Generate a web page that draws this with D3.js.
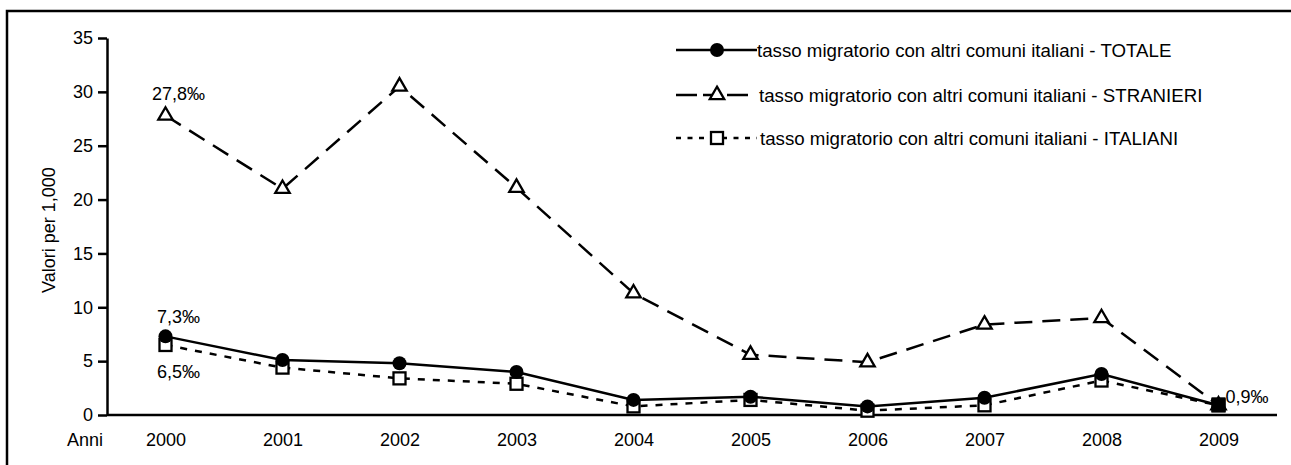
<!DOCTYPE html>
<html>
<head>
<meta charset="utf-8">
<script src="https://cdn.jsdelivr.net/npm/d3@7/dist/d3.min.js"></script>
<style>
  html, body { margin: 0; padding: 0; background: #fff; }
  svg { display: block; font-family: "Liberation Sans", Arial, sans-serif; }
</style>
</head>
<body>
<svg id="chart" width="1291" height="465"></svg>
<script>
// Tasso migratorio con altri comuni italiani (valori per 1.000)
const years = ["2000", "2001", "2002", "2003", "2004", "2005", "2006", "2007", "2008", "2009"];
const totale    = [7.3, 5.1, 4.8, 4.0, 1.4, 1.7, 0.8, 1.6, 3.8, 0.9];
const stranieri = [27.8, 21.0, 30.5, 21.1, 11.3, 5.6, 4.9, 8.4, 9.0, 0.9];
const italiani  = [6.5, 4.4, 3.4, 2.9, 0.8, 1.4, 0.4, 0.9, 3.2, 0.9];
const yTicks = [0, 5, 10, 15, 20, 25, 30, 35];
const legendLabels = [
  "tasso migratorio con altri comuni italiani - TOTALE",
  "tasso migratorio con altri comuni italiani - STRANIERI",
  "tasso migratorio con altri comuni italiani - ITALIANI"
];
const valueLabels = [
  { series: "stranieri", year: "2000", value: 27.8, text: "27,8‰" },
  { series: "totale",    year: "2000", value: 7.3,  text: "7,3‰" },
  { series: "italiani",  year: "2000", value: 6.5,  text: "6,5‰" },
  { series: "italiani",  year: "2009", value: 0.9,  text: "0,9‰" }
];

const FONT = "Liberation Sans, Arial, sans-serif";
const FS = 18;

const svg = d3.select("#chart");
const plotLeft = 107, plotRight = 1277, plotTop = 38, plotBottom = 415;

const x = d3.scalePoint().domain(years).range([plotLeft, plotRight]).padding(0.5);
const y = d3.scaleLinear().domain([0, 35]).range([plotBottom, plotTop]);

// frame
svg.append("rect")
  .attr("x", 7).attr("y", 11).attr("width", 1400).attr("height", 600)
  .attr("fill", "none").attr("stroke", "#000").attr("stroke-width", 2.5);

// y axis
const yAxis = svg.append("g")
  .attr("transform", `translate(${plotLeft},0)`)
  .call(d3.axisLeft(y).tickValues(yTicks).tickSize(9).tickSizeOuter(0).tickPadding(5));
yAxis.select(".domain").attr("stroke-width", 2.5);
yAxis.selectAll(".tick line").attr("stroke-width", 2.5);
yAxis.selectAll(".tick text").attr("font-size", FS).attr("font-family", FONT).attr("fill", "#000");

// x axis
const xAxis = svg.append("g")
  .attr("transform", `translate(0,${plotBottom})`)
  .call(d3.axisBottom(x).tickSize(0).tickPadding(18));
xAxis.select(".domain").attr("d", `M${plotLeft},0H${plotRight}`).attr("stroke-width", 2.5);
xAxis.selectAll(".tick text").attr("font-size", FS).attr("font-family", FONT).attr("fill", "#000");

svg.append("text")
  .attr("x", 103).attr("y", 446).attr("text-anchor", "end")
  .attr("font-size", FS).text("Anni");

svg.append("text")
  .attr("transform", `translate(55,230) rotate(-90)`)
  .attr("text-anchor", "middle").attr("font-size", FS)
  .text("Valori per 1,000");

// lines
const line = d3.line().x((d, i) => x(years[i])).y(d => y(d));

svg.append("path").datum(italiani).attr("d", line)
  .attr("fill", "none").attr("stroke", "#000").attr("stroke-width", 2.5)
  .attr("stroke-dasharray", "7,8");
svg.append("path").datum(stranieri).attr("d", line)
  .attr("fill", "none").attr("stroke", "#000").attr("stroke-width", 2.5)
  .attr("stroke-dasharray", "18,10");
svg.append("path").datum(totale).attr("d", line)
  .attr("fill", "none").attr("stroke", "#000").attr("stroke-width", 2.5);

// markers
const tri = d3.symbol().type(d3.symbolTriangle).size(90);

svg.append("g").selectAll("path").data(stranieri).join("path")
  .attr("d", tri)
  .attr("transform", (d, i) => `translate(${x(years[i])},${y(d)})`)
  .attr("fill", "#fff").attr("stroke", "#000").attr("stroke-width", 2.3);

svg.append("g").selectAll("rect").data(italiani).join("rect")
  .attr("x", (d, i) => x(years[i]) - 6).attr("y", d => y(d) - 6)
  .attr("width", 12).attr("height", 12)
  .attr("fill", (d, i) => i === years.length - 1 ? "#000" : "#fff")
  .attr("stroke", "#000").attr("stroke-width", 2.3);

svg.append("g").selectAll("circle").data(totale.slice(0, -1)).join("circle")
  .attr("cx", (d, i) => x(years[i])).attr("cy", d => y(d)).attr("r", 7)
  .attr("fill", "#000");

// last point: filled square drawn on top
svg.append("rect")
  .attr("x", x("2009") - 7).attr("y", y(italiani[9]) - 8)
  .attr("width", 14).attr("height", 15).attr("fill", "#000");

// value labels
const labelOffset = {
  "stranieri-2000": [-13.5, -15.5],
  "totale-2000":    [-8.5, -13.5],
  "italiani-2000":  [-8.5, 33],
  "italiani-2009":  [7, -2]
};
svg.append("g").selectAll("text").data(valueLabels).join("text")
  .attr("x", d => x(d.year) + labelOffset[`${d.series}-${d.year}`][0])
  .attr("y", d => y(d.value) + labelOffset[`${d.series}-${d.year}`][1])
  .attr("font-size", FS)
  .text(d => d.text);

// legend
const legend = svg.append("g");
const rowsY = [50, 95, 138];
const lx0 = 676, lx1 = 757, lmid = 717;

legend.append("line").attr("x1", lx0).attr("x2", lx1).attr("y1", rowsY[0]).attr("y2", rowsY[0])
  .attr("stroke", "#000").attr("stroke-width", 2.5);
legend.append("circle").attr("cx", lmid).attr("cy", rowsY[0]).attr("r", 7).attr("fill", "#000");

legend.append("path")
  .attr("d", `M${lx0},${rowsY[1]}H697M703,${rowsY[1]}H${lmid}M727,${rowsY[1]}H748`)
  .attr("stroke", "#000").attr("stroke-width", 2.5);
legend.append("path").attr("d", tri).attr("transform", `translate(${lmid},${rowsY[1]})`)
  .attr("fill", "#fff").attr("stroke", "#000").attr("stroke-width", 2.3);

legend.append("line").attr("x1", lx0).attr("x2", lx1).attr("y1", rowsY[2]).attr("y2", rowsY[2])
  .attr("stroke", "#000").attr("stroke-width", 2.5).attr("stroke-dasharray", "5,6.5");
legend.append("rect").attr("x", lmid - 6).attr("y", rowsY[2] - 6).attr("width", 12).attr("height", 12)
  .attr("fill", "#fff").attr("stroke", "#000").attr("stroke-width", 2.3);

legend.selectAll("text.lg").data(legendLabels).join("text")
  .attr("class", "lg")
  .attr("x", (d, i) => [757, 759, 760][i])
  .attr("y", (d, i) => rowsY[i] + 6.5)
  .attr("font-size", 18.7)
  .text(d => d);
</script>
</body>
</html>
